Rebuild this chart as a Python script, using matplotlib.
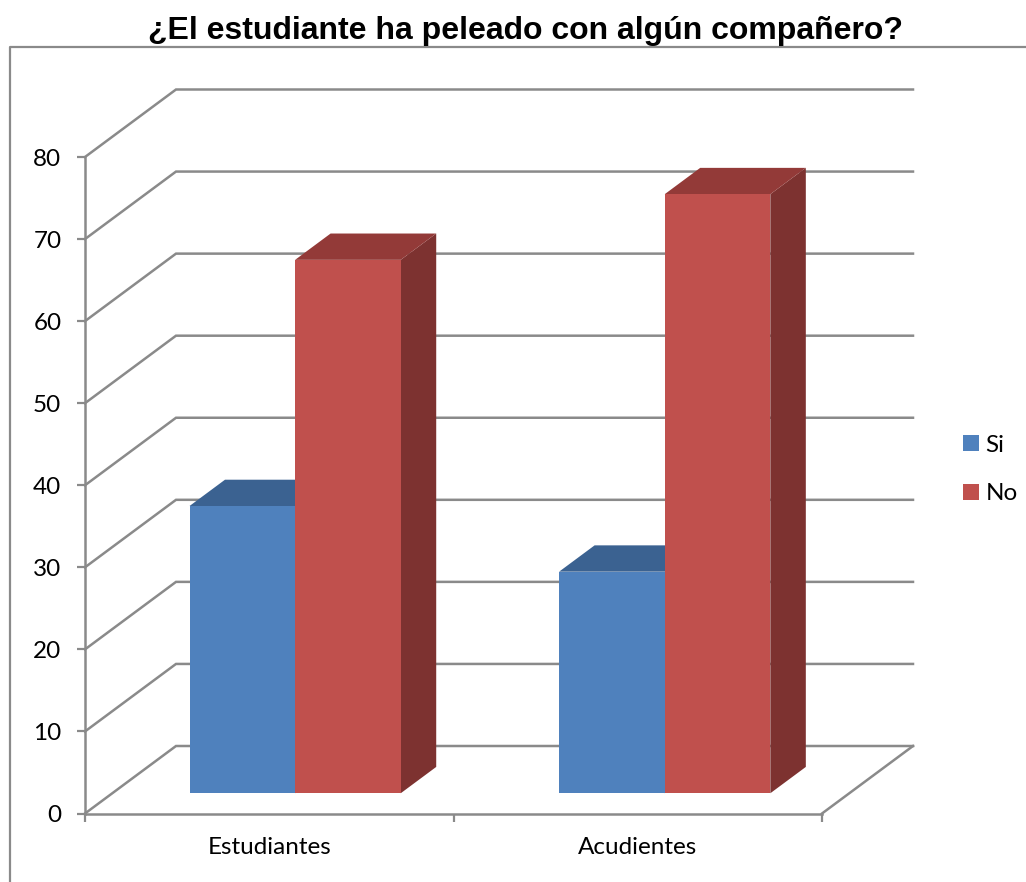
import matplotlib
matplotlib.use('Agg')
import matplotlib.pyplot as plt
from matplotlib.lines import Line2D
from matplotlib.patches import Patch, Polygon

categories = ['Estudiantes', 'Acudientes']
series_names = ['Si', 'No']
si_values = [35, 27]
no_values = [65, 73]
y_ticks = [0, 10, 20, 30, 40, 50, 60, 70, 80]

W, H = 1026, 882
GRID = '#8a8a8a'
LABEL_FONT = 'Lato'
LABEL_SIZE = 17.5

fig = plt.figure(figsize=(W / 100, H / 100), dpi=100)
# axes is the front plane of the 3d box
ax = fig.add_axes([85 / W, 1 - 813.5 / H, (822 - 85) / W, (813.5 - 157) / H])
ax.set_xlim(0, 2)
ax.set_ylim(0, 80)
ax.patch.set_alpha(0)

# oblique projection, depth 0 is the front of the box and 1 the back wall
depth_x = 91 / (737 / 2)
depth_y = 67.5 / (656.5 / 80)


def proj(x, y, d):
    return x + d * depth_x, y + d * depth_y


def box(x, w, v, front, side, top):
    d0, d1 = 0.3, 0.69
    x0, x1 = x, x + w
    side_pts = [proj(x1, 0, d0), proj(x1, 0, d1), proj(x1, v, d1), proj(x1, v, d0)]
    top_pts = [proj(x0, v, d0), proj(x1, v, d0), proj(x1, v, d1), proj(x0, v, d1)]
    front_pts = [proj(x0, 0, d0), proj(x1, 0, d0), proj(x1, v, d0), proj(x0, v, d0)]
    ax.add_patch(Polygon(side_pts, facecolor=side, edgecolor='none', zorder=3, clip_on=False))
    ax.add_patch(Polygon(top_pts, facecolor=top, edgecolor='none', zorder=3, clip_on=False))
    ax.add_patch(Polygon(front_pts, facecolor=front, edgecolor='none', zorder=3, clip_on=False))


# wall grid
for t in y_ticks:
    bx, by = proj(0, t, 1)
    ex, ey = proj(2, t, 1)
    ax.plot([0, bx, ex], [t, by, ey], color=GRID, lw=1.8, clip_on=False, zorder=1, solid_joinstyle='miter')
# floor right edge
bx, by = proj(2, 0, 1)
ax.plot([2, bx], [0, by], color=GRID, lw=1.8, clip_on=False, zorder=1)

bar_w = 0.2866
starts = [0.2095, 1.2125]
for i in range(len(categories)):
    box(starts[i], bar_w, si_values[i], '#4F81BD', '#385D8A', '#3B6291')
    box(starts[i] + bar_w, bar_w, no_values[i], '#C0504D', '#7D3230', '#933A38')

for s in ['top', 'right']:
    ax.spines[s].set_visible(False)
for s in ['left', 'bottom']:
    ax.spines[s].set_color(GRID)
    ax.spines[s].set_linewidth(1.8)

ax.set_yticks(y_ticks)
ax.set_xticks([0, 1, 2])
ax.set_xticklabels([])
ax.set_xticks([0.5, 1.5], minor=True)
ax.set_xticklabels(categories, minor=True, fontsize=LABEL_SIZE, family=LABEL_FONT, color='black')
ax.tick_params(axis='y', length=6, width=1.6, color=GRID, labelsize=LABEL_SIZE, pad=11)
ax.tick_params(axis='x', which='major', length=5.5, width=1.6, color=GRID)
ax.tick_params(axis='x', which='minor', length=0, pad=17)
for lab in ax.get_yticklabels():
    lab.set_family(LABEL_FONT)

# outer chart frame, runs off the right and bottom of the picture
fig.add_artist(Line2D([9.5 / W, 9.5 / W, 1], [0, 1 - 47 / H, 1 - 47 / H], color=GRID, lw=1.6))

fig.text(526 / W, 1 - 31 / H, '¿El estudiante ha peleado con algún compañero?', ha='center', va='center',
         fontsize=23, fontweight='bold', family='Liberation Sans')

handles = [Patch(facecolor='#4F81BD', label=series_names[0]), Patch(facecolor='#C0504D', label=series_names[1])]
fig.legend(handles=handles, loc='center left', bbox_to_anchor=(956 / W, 1 - 469.5 / H), frameon=False,
           prop={'family': LABEL_FONT, 'size': LABEL_SIZE}, handlelength=0.65, handleheight=0.65,
           handletextpad=0.27, labelspacing=1.15, borderpad=0.3, borderaxespad=0)

fig.savefig('out.png', dpi=100)
